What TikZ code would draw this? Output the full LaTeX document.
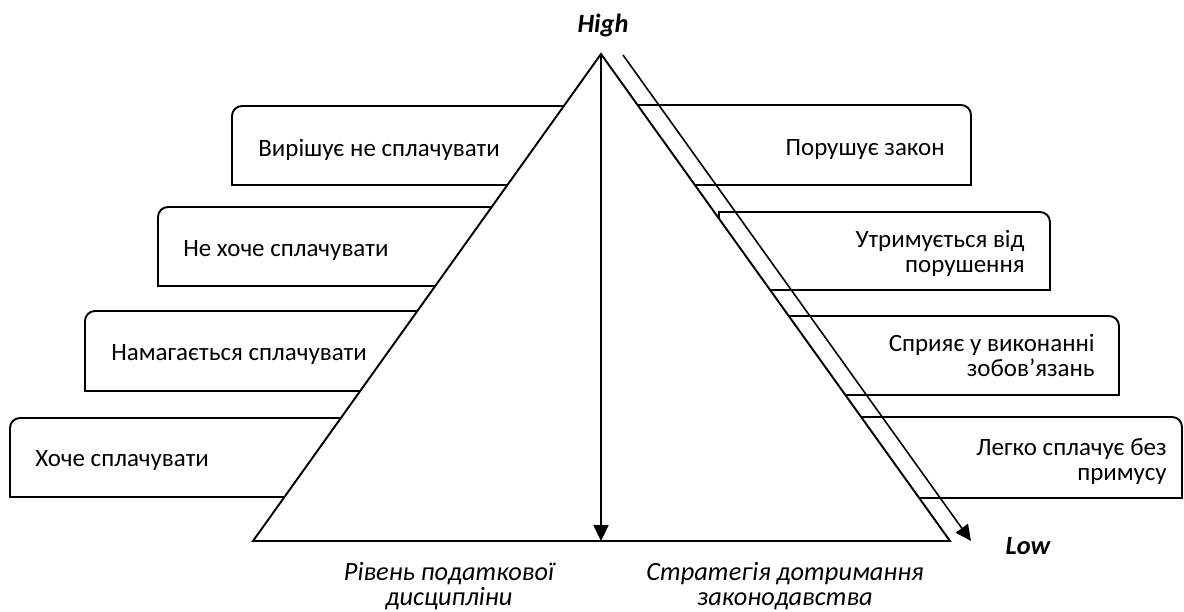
\documentclass[tikz,border=0pt]{standalone}
\usepackage{fontspec}
\setmainfont{Carlito}
\usetikzlibrary{arrows.meta}

\tikzset{
  boxline/.style={line width=1.1pt},
  boxtext/.style={inner sep=0pt,font=\fontsize{14.2}{14.2}\selectfont},
  axislabel/.style={inner sep=0pt,font=\fontsize{15}{14.2}\selectfont\itshape,align=center},
  axistip/.style={line width=1pt,-{Triangle[length=9pt,width=8.5pt]}}
}

\begin{document}
\begin{tikzpicture}[x=0.02cm,y=-0.02cm]
\useasboundingbox (0,0) rectangle (1184,612);

% steps on the left
\draw[boxline,rounded corners=5.7pt] (590,106) -- (232,106) [sharp corners] -- (232,185) -- (590,185);
\draw[boxline,rounded corners=5.7pt] (590,207) -- (158,207) [sharp corners] -- (158,286) -- (590,286);
\draw[boxline,rounded corners=5.7pt] (590,311) -- (85,311) [sharp corners] -- (85,391) -- (590,391);
\draw[boxline,rounded corners=5.7pt] (590,418) -- (10,418) [sharp corners] -- (10,497) -- (590,497);

% steps on the right
\draw[boxline,rounded corners=5.7pt] (620,105) -- (971,105) [sharp corners] -- (971,185) -- (620,185);
\draw[boxline,rounded corners=5.7pt] (719,290) [sharp corners] -- (719,212) [rounded corners=5.7pt] -- (1050,212) [sharp corners] -- (1050,290) -- cycle;
\draw[boxline,rounded corners=5.7pt] (620,316) -- (1119,316) [sharp corners] -- (1119,395) -- (620,395);
\draw[boxline,rounded corners=5.7pt] (620,417) -- (1182,417) [sharp corners] -- (1182,498) -- (620,498);

% pyramid
\coordinate (apex) at (601,54);
\coordinate (baseL) at (253,541);
\coordinate (baseR) at (950,541);
\coordinate (baseM) at (601,541);
\filldraw[boxline,fill=white] (apex) -- (baseL) -- (baseR) -- cycle;

\coordinate (slopeTop) at (623,55);
\coordinate (slopeEnd) at (971,541);
\draw[axistip] (apex) -- (baseM);
\draw[axistip,line width=0.9pt] (slopeTop) -- (slopeEnd);

\node[boxtext,anchor=base west] (refuse) at (258,156) {Вирішує не сплачувати};
\node[boxtext,anchor=base west] (unwilling) at (183,256) {Не хоче сплачувати};
\node[boxtext,anchor=base west] (trying) at (111,360) {Намагається сплачувати};
\node[boxtext,anchor=base west] (willing) at (35,466) {Хоче сплачувати};

\node[boxtext,anchor=base east] (breaks) at (945,155) {Порушує закон};
\node[boxtext,anchor=base east,align=right] (refrains) at (1025,272.7) {Утримується від\\порушення};
\node[boxtext,anchor=base east,align=right] (assists) at (1095,376) {Сприяє у виконанні\\зобов’язань};
\node[boxtext,anchor=base east,align=right] (easy) at (1167,480) {Легко сплачує без\\примусу};

\node[boxtext,anchor=base,font=\fontsize{15}{15}\selectfont\bfseries\itshape] (high) at (603,32) {High};
\node[boxtext,anchor=base,font=\fontsize{15}{15}\selectfont\bfseries\itshape] (low) at (1028,554) {Low};

\node[axislabel,anchor=base] (discipline) at (449,605) {Рівень податкової\\дисципліни};
\node[axislabel,anchor=base] (strategy) at (785,605) {Стратегія дотримання\\законодавства};
\end{tikzpicture}
\end{document}
